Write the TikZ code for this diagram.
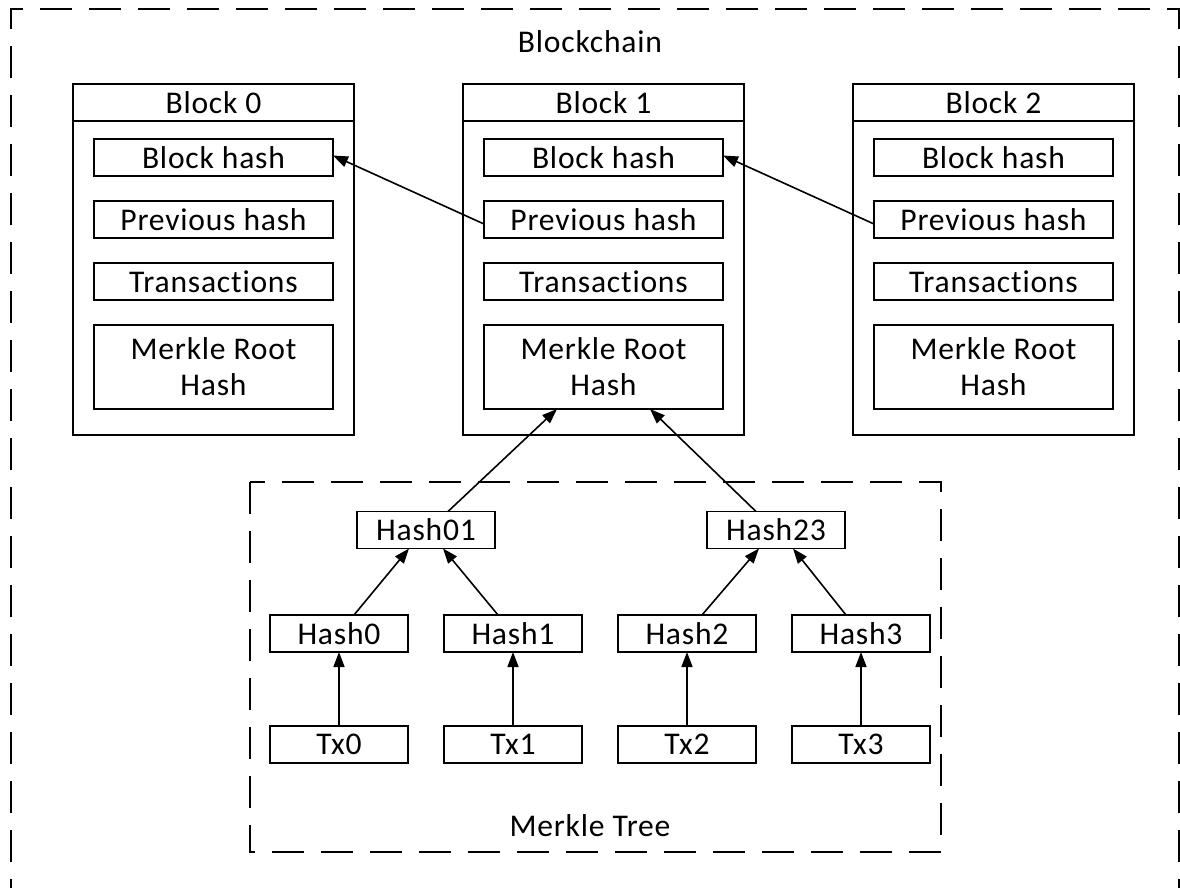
\documentclass[tikz,border=0pt]{standalone}
\usepackage{fontspec}
\setmainfont{Carlito}[Ligatures=NoCommon, LetterSpace=2.5]
\usetikzlibrary{arrows.meta}
\begin{document}
\begin{tikzpicture}[x=0.5pt,y=-0.5pt,
  every node/.style={font=\fontsize{15.8}{18}\selectfont, inner sep=0pt, outer sep=0pt},
  blockbox/.style={draw, line width=1pt, minimum width=140.5pt, minimum height=175.5pt},
  field/.style={draw, line width=0.9pt, minimum width=119.5pt, minimum height=18.5pt},
  rootfield/.style={field, minimum height=42pt, align=center},
  hashbox/.style={draw, line width=0.9pt, minimum width=69pt, minimum height=18.5pt},
  region/.style={line width=1pt, dash pattern=on 16pt off 8.5pt},
  arr/.style={line width=0.8pt, -{Triangle[length=7.5pt,width=5.5pt]}}
]
\useasboundingbox (0,0) rectangle (1180,888);
\clip (0,0) rectangle (1180,888);

% blockchain frame (runs past the lower edge)
\draw[region] (11,960) -- (11,9) -- (1179,9) -- (1179,960);
\node (chainlabel) at (590,42) {Blockchain};

% the three blocks
\foreach \i/\cx in {0/213.5,1/603.5,2/993.5}{
  \node[blockbox] (blk\i) at (\cx,259.5) {};
  \draw[line width=1pt] ([yshift=-18.5pt]blk\i.north west) -- ([yshift=-18.5pt]blk\i.north east);
  \node (hd\i) at (\cx,102.5) {Block \i};
  \node[field] (bh\i) at (\cx,157.5) {Block hash};
  \node[field] (ph\i) at (\cx,219.5) {Previous hash};
  \node[field] (tr\i) at (\cx,281.5) {Transactions};
  \node[rootfield] (mr\i) at (\cx,367) {Merkle Root\\Hash};
}

% hash links between blocks
\draw[arr] ([yshift=-2.25pt]ph1.west) -- ([yshift=1pt]bh0.east);
\draw[arr] ([yshift=-2.25pt]ph2.west) -- ([yshift=1pt]bh1.east);

% merkle tree
\draw[region] (250,482) rectangle (941,852);
\node (treelabel) at (590,826) {Merkle Tree};

\node[hashbox] (h01) at (426,530) {Hash01};
\node[hashbox] (h23) at (776,530) {Hash23};
\node[hashbox] (h0) at (339,633.5) {Hash0};
\node[hashbox] (h1) at (513,633.5) {Hash1};
\node[hashbox] (h2) at (687,633.5) {Hash2};
\node[hashbox] (h3) at (861,633.5) {Hash3};
\node[hashbox] (tx0) at (339,744.5) {Tx0};
\node[hashbox] (tx1) at (513,744.5) {Tx1};
\node[hashbox] (tx2) at (687,744.5) {Tx2};
\node[hashbox] (tx3) at (861,744.5) {Tx3};

\draw[arr] (tx0.north) -- (h0.south);
\draw[arr] (tx1.north) -- (h1.south);
\draw[arr] (tx2.north) -- (h2.south);
\draw[arr] (tx3.north) -- (h3.south);

\draw[arr] ([xshift=7.5pt]h0.north) -- ([xshift=-8.5pt]h01.south);
\draw[arr] ([xshift=-7.5pt]h1.north) -- ([xshift=8.5pt]h01.south);
\draw[arr] ([xshift=7.5pt]h2.north) -- ([xshift=-8.5pt]h23.south);
\draw[arr] ([xshift=-7.5pt]h3.north) -- ([xshift=8.5pt]h23.south);

\draw[arr] ([xshift=11pt]h01.north) -- ([xshift=-23.25pt]mr1.south);
\draw[arr] ([xshift=-10pt]h23.north) -- ([xshift=23.25pt]mr1.south);
\end{tikzpicture}
\end{document}
